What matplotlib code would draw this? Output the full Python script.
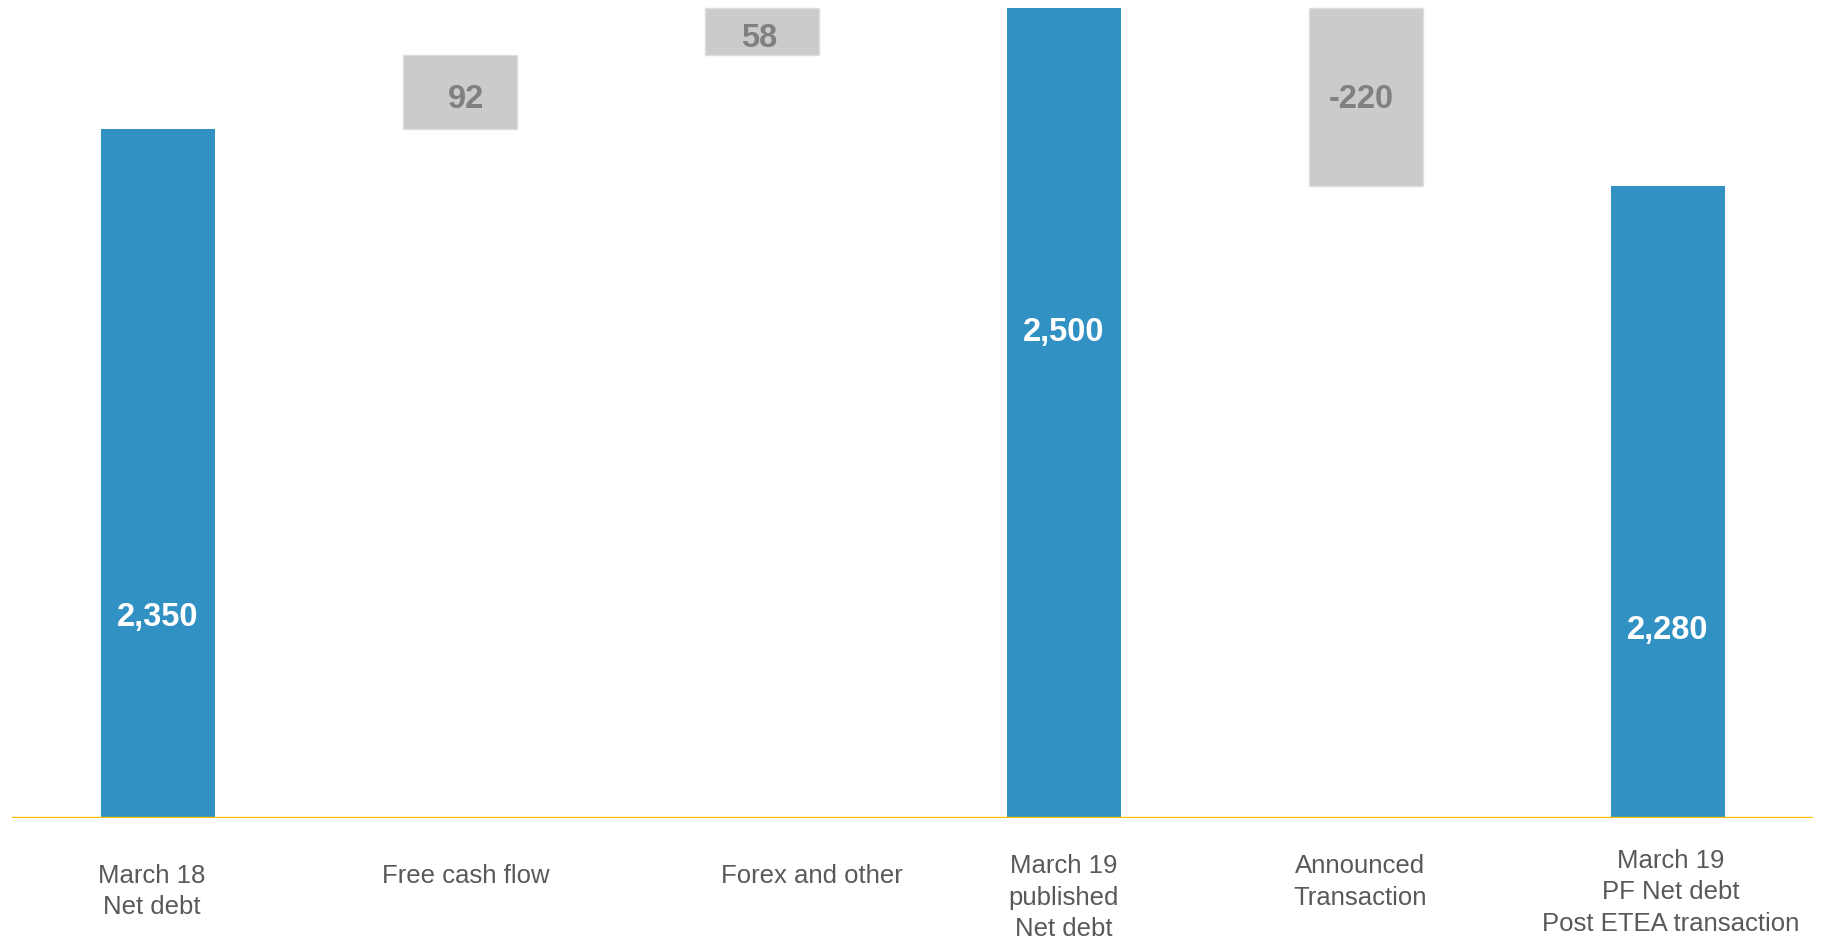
import matplotlib.pyplot as plt

plt.rcParams['font.family'] = ['Liberation Sans', 'DejaVu Sans']

categories = ['March 18\nNet debt', 'Free cash flow', 'Forex and other',
              'March 19\npublished\nNet debt', 'Announced\nTransaction',
              'March 19\nPF Net debt\nPost ETEA transaction']
values = [2350, 92, 58, 2500, -220, 2280]
is_total = [True, False, False, True, False, True]
value_labels = ['2,350', '92', '58', '2,500', '-220', '2,280']

# where the white labels sit inside the blue bars (data units)
total_label_y = {0: 1748, 3: 2099, 5: 1731}
# small nudges of the grey labels (x in bars, y in data units)
delta_nudge = {1: (0.02, -9), 2: (-0.01, -9), 4: (-0.015, -3)}
# category label tweaks: x shift (bars) and drop below baseline (points)
label_dx = [-0.02, 0.02, 0.165, 0.0, -0.02, 0.01]
label_drop = [33, 33, 33, 26, 26, 22]

base = 1500
blue = '#3191C3'
grey = '#CBCBCB'

fig = plt.figure(figsize=(18.25, 9.39), dpi=100)
ax = fig.add_axes([12 / 1825, 1 - 818 / 939, (1813 - 12) / 1825, 818 / 939])

running = 0
for i, (v, tot) in enumerate(zip(values, is_total)):
    if tot:
        ax.bar(i, v - base, bottom=base, width=0.377, color=blue, zorder=2)
        running = v
        ax.text(i, total_label_y[i], value_labels[i], ha='center', va='center',
                color='white', fontsize=23.5, fontweight='bold', zorder=3)
    else:
        bottom = running if v > 0 else running + v
        ax.bar(i, abs(v), bottom=bottom, width=0.377, color=grey,
               edgecolor='#DDDDDD', linewidth=1, zorder=2)
        dx, dy = delta_nudge[i]
        ax.text(i + dx, bottom + abs(v) / 2 + dy, value_labels[i], ha='center', va='center',
                color='#808080', fontsize=23.5, fontweight='bold', zorder=3)
        running += v

ax.axhline(base, color='#FFC000', linewidth=1.7, zorder=4)

for i, lab in enumerate(categories):
    ax.annotate(lab, xy=(i + label_dx[i], 0), xycoords=('data', 'axes fraction'),
                xytext=(0, -label_drop[i]), textcoords='offset points',
                ha='center', va='top', multialignment='center',
                fontsize=18.5, color='#595959', linespacing=1.4,
                annotation_clip=False)

ax.set_xlim(-0.483, 5.48)
ax.set_ylim(base, 2509.6)
ax.axis('off')

fig.savefig('out.png', dpi=100)
